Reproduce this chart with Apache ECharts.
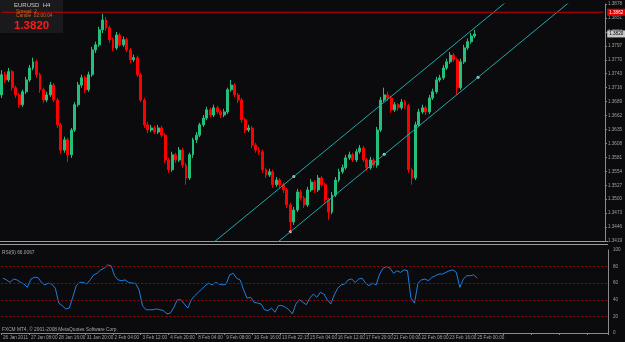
<!DOCTYPE html>
<html>
<head>
<meta charset="utf-8">
<title>EURUSD H4</title>
<script src="https://cdn.jsdelivr.net/npm/echarts@6/dist/echarts.min.js"></script>
<style>
  html, body { margin: 0; padding: 0; background: #0b0b0d; }
  #chart { width: 625px; height: 342px; }
</style>
</head>
<body>
<div id="chart"></div>
<script>
// candles, one per H4 bar (26 Jan 2011 -> 25 Feb 2011)
const openP = [
  1.3702,1.3741,1.3731,1.3747,1.3716,1.3702,1.3683,1.3708,1.3731,1.3754,
  1.3766,1.3741,1.3712,1.3692,1.3702,1.3721,1.3692,1.3644,1.3595,1.3615,
  1.3586,1.3634,1.3683,1.3721,1.3735,1.3712,1.3741,1.3789,1.3799,1.3828,
  1.3847,1.3832,1.3809,1.3793,1.3818,1.3799,1.3809,1.3789,1.3770,1.3774,
  1.3741,1.3692,1.3644,1.3634,1.3638,1.3630,1.3638,1.3624,1.3576,1.3557,
  1.3586,1.3576,1.3595,1.3566,1.3541,1.3586,1.3615,1.3624,1.3644,1.3657,
  1.3673,1.3663,1.3677,1.3669,1.3663,1.3669,1.3712,1.3721,1.3702,1.3692,
  1.3654,1.3634,1.3638,1.3605,1.3595,1.3592,1.3557,1.3547,1.3553,1.3528,
  1.3537,1.3528,1.3518,1.3489,1.3456,1.3479,1.3514,1.3502,1.3489,1.3518,
  1.3533,1.3518,1.3541,1.3528,1.3499,1.3475,1.3508,1.3537,1.3553,1.3561,
  1.3580,1.3586,1.3576,1.3592,1.3599,1.3576,1.3561,1.3576,1.3566,1.3634,
  1.3692,1.3702,1.3696,1.3673,1.3683,1.3677,1.3688,1.3681,1.3557,1.3541,
  1.3644,1.3669,1.3677,1.3669,1.3696,1.3708,1.3731,1.3735,1.3754,1.3766,
  1.3779,1.3770,1.3716,1.3766,1.3793,1.3805,1.3816
]
const closeP = [
  1.3741,1.3731,1.3747,1.3716,1.3702,1.3683,1.3708,1.3731,1.3754,1.3766,
  1.3741,1.3712,1.3692,1.3702,1.3721,1.3692,1.3644,1.3595,1.3615,1.3586,
  1.3634,1.3683,1.3721,1.3735,1.3712,1.3741,1.3789,1.3799,1.3828,1.3847,
  1.3832,1.3809,1.3793,1.3818,1.3799,1.3809,1.3789,1.3770,1.3774,1.3741,
  1.3692,1.3644,1.3634,1.3638,1.3630,1.3638,1.3624,1.3576,1.3557,1.3586,
  1.3576,1.3595,1.3566,1.3541,1.3586,1.3615,1.3624,1.3644,1.3657,1.3673,
  1.3663,1.3677,1.3669,1.3663,1.3669,1.3712,1.3721,1.3702,1.3692,1.3654,
  1.3634,1.3638,1.3605,1.3595,1.3592,1.3557,1.3547,1.3553,1.3528,1.3537,
  1.3528,1.3518,1.3489,1.3456,1.3479,1.3514,1.3502,1.3489,1.3518,1.3533,
  1.3518,1.3541,1.3528,1.3499,1.3475,1.3508,1.3537,1.3553,1.3561,1.3580,
  1.3586,1.3576,1.3592,1.3599,1.3576,1.3561,1.3576,1.3566,1.3634,1.3692,
  1.3702,1.3696,1.3673,1.3683,1.3677,1.3688,1.3681,1.3557,1.3541,1.3644,
  1.3669,1.3677,1.3669,1.3696,1.3708,1.3731,1.3735,1.3754,1.3766,1.3779,
  1.3770,1.3716,1.3766,1.3793,1.3805,1.3816,1.3820
]
const lowP = [
  1.3696,1.3725,1.3727,1.3710,1.3696,1.3677,1.3679,1.3704,1.3727,1.3750,
  1.3735,1.3706,1.3686,1.3688,1.3698,1.3688,1.3638,1.3588,1.3590,1.3572,
  1.3580,1.3630,1.3679,1.3716,1.3706,1.3708,1.3737,1.3783,1.3795,1.3822,
  1.3826,1.3803,1.3787,1.3789,1.3795,1.3795,1.3785,1.3764,1.3766,1.3737,
  1.3688,1.3638,1.3628,1.3630,1.3626,1.3626,1.3620,1.3570,1.3551,1.3553,
  1.3570,1.3572,1.3561,1.3528,1.3537,1.3580,1.3609,1.3620,1.3640,1.3653,
  1.3659,1.3659,1.3665,1.3657,1.3659,1.3665,1.3708,1.3698,1.3686,1.3648,
  1.3628,1.3630,1.3599,1.3590,1.3586,1.3551,1.3541,1.3543,1.3522,1.3524,
  1.3522,1.3512,1.3483,1.3437,1.3450,1.3475,1.3497,1.3483,1.3485,1.3514,
  1.3512,1.3514,1.3524,1.3493,1.3460,1.3471,1.3504,1.3533,1.3549,1.3557,
  1.3576,1.3572,1.3572,1.3588,1.3572,1.3555,1.3557,1.3561,1.3561,1.3630,
  1.3688,1.3690,1.3667,1.3669,1.3671,1.3673,1.3675,1.3551,1.3528,1.3537,
  1.3640,1.3665,1.3663,1.3665,1.3692,1.3704,1.3727,1.3731,1.3750,1.3762,
  1.3766,1.3702,1.3712,1.3762,1.3789,1.3801,1.3812
]
const highP = [
  1.3750,1.3747,1.3754,1.3750,1.3720,1.3706,1.3712,1.3737,1.3760,1.3774,
  1.3770,1.3745,1.3716,1.3708,1.3727,1.3725,1.3696,1.3648,1.3621,1.3619,
  1.3638,1.3688,1.3727,1.3741,1.3739,1.3747,1.3795,1.3805,1.3834,1.3859,
  1.3853,1.3836,1.3813,1.3824,1.3822,1.3815,1.3813,1.3793,1.3780,1.3778,
  1.3745,1.3696,1.3650,1.3644,1.3642,1.3644,1.3642,1.3628,1.3580,1.3592,
  1.3590,1.3601,1.3599,1.3570,1.3590,1.3619,1.3630,1.3648,1.3663,1.3679,
  1.3677,1.3683,1.3681,1.3673,1.3675,1.3716,1.3731,1.3725,1.3706,1.3696,
  1.3658,1.3644,1.3642,1.3609,1.3601,1.3596,1.3561,1.3559,1.3557,1.3543,
  1.3541,1.3532,1.3522,1.3493,1.3485,1.3520,1.3518,1.3506,1.3524,1.3539,
  1.3537,1.3547,1.3545,1.3532,1.3503,1.3514,1.3543,1.3559,1.3567,1.3586,
  1.3592,1.3590,1.3597,1.3605,1.3603,1.3580,1.3582,1.3580,1.3640,1.3698,
  1.3716,1.3708,1.3700,1.3688,1.3686,1.3694,1.3692,1.3685,1.3561,1.3650,
  1.3675,1.3683,1.3681,1.3702,1.3714,1.3737,1.3741,1.3760,1.3772,1.3785,
  1.3783,1.3774,1.3772,1.3799,1.3811,1.3822,1.3828
]

// RSI(9) under the price panel
const rsi = [
  66,64,61,65,64,61,59,55,65,67,
  67,61,58,60,59,54,36,33,29,30,
  43,57,61,61,59,64,70,72,76,78,
  82,81,69,64,63,64,61,60,60,52,
  33,28,28,28,29,28,27,23,24,31,
  40,40,35,30,40,45,49,53,57,60,
  58,61,59,58,59,70,72,66,64,52,
  42,43,37,36,35,28,27,30,25,33,
  33,31,28,23,35,40,37,34,42,47,
  43,49,47,40,35,46,54,58,59,64,
  65,61,65,66,60,57,60,58,71,78,
  80,78,72,75,73,76,75,42,36,60,
  64,65,63,67,69,71,71,73,75,76,
  73,55,65,69,69,70,66.0067
]
const rsiLevels = [20, 40, 60, 80]

// time labels, one every 8 bars
const timeLabels = [
  '26 Jan 2011', '27 Jan 08:00', '28 Jan 16:00', '31 Jan 20:00', '2 Feb 04:00',
  '3 Feb 12:00', '4 Feb 20:00', '8 Feb 04:00', '9 Feb 08:00', '10 Feb 16:00',
  '13 Feb 22:15', '15 Feb 04:00', '16 Feb 12:00', '17 Feb 20:00', '21 Feb 00:00',
  '22 Feb 08:00', '23 Feb 16:00', '25 Feb 00:00'
]

// equidistant channel (bar index, price)
const channelLower = [[78, 1.3409], [170, 1.3919]]
const channelUpper = [[60, 1.3411], [170, 1.4020]]
const channelPoints = [[83, 1.3437], [84, 1.3544], [110, 1.3587], [137, 1.3736]]

const alertLevel = 1.3862
const bidPrice = 1.3820

// the window shows empty bars to the right of the last candle
const totalBars = 174
const categories = Array.from({length: totalBars}, (_, i) => String(i))

const candleData = openP.map((o, i) => [o, closeP[i], lowP[i], highP[i]])

const font = 'Liberation Sans'
const axisGrey = '#8a8a8a'

// horizontal level across the window with a price tag on the axis
const levelSeries = (name, value, lineColor, tagBg, tagFg) => ({
  name,
  type: 'line',
  xAxisIndex: 0,
  yAxisIndex: 0,
  data: [[0, value], [totalBars - 1, value]],
  symbol: 'none',
  silent: true,
  z: 4,
  lineStyle: {color: lineColor, width: lineColor ? 1 : 0, opacity: lineColor ? 1 : 0},
  endLabel: {
    show: true,
    distance: 4,
    fontSize: 4.6,
    fontFamily: font,
    color: tagFg,
    backgroundColor: tagBg,
    padding: [1, 2],
    formatter: () => value.toFixed(4),
  },
})

const chart = echarts.init(document.getElementById('chart'))

const option = {
  backgroundColor: '#0b0b0d',
  animation: false,
  textStyle: {fontFamily: font},
  grid: [
    {left: 0, right: 17, top: 4, height: 237},
    {left: 0, right: 17, top: 250, height: 83},
  ],
  xAxis: [
    {
      type: 'category',
      gridIndex: 0,
      data: categories,
      axisLine: {show: false},
      axisTick: {show: false},
      axisLabel: {show: false},
      splitLine: {show: false},
    },
    {
      type: 'category',
      gridIndex: 1,
      data: categories,
      axisLine: {show: true, lineStyle: {color: axisGrey}},
      axisTick: {show: true, interval: 7, length: 2, lineStyle: {color: axisGrey}},
      axisLabel: {
        interval: 7,
        fontSize: 4.6,
        color: '#a0a0a0',
        align: 'left',
        margin: 2,
        formatter: (v, i) => (i % 8 === 0 && timeLabels[i / 8]) || '',
      },
      splitLine: {show: false},
    },
  ],
  yAxis: [
    {
      type: 'value',
      gridIndex: 0,
      position: 'right',
      min: 1.3419,
      max: 1.3878,
      interval: 0.0027,
      axisLine: {show: true, lineStyle: {color: axisGrey}},
      axisTick: {show: true, length: 2, lineStyle: {color: axisGrey}},
      axisLabel: {fontSize: 4.6, color: '#a0a0a0', margin: 3, formatter: (v) => v.toFixed(4)},
      splitLine: {show: false},
    },
    {
      type: 'value',
      gridIndex: 1,
      position: 'right',
      min: 0,
      max: 100,
      interval: 20,
      axisLine: {show: true, lineStyle: {color: axisGrey}},
      axisTick: {show: false},
      axisLabel: {fontSize: 4.6, color: '#a0a0a0', margin: 5},
      splitLine: {show: false},
    },
  ],
  series: [
    {
      name: 'EURUSD',
      type: 'candlestick',
      xAxisIndex: 0,
      yAxisIndex: 0,
      data: candleData,
      barWidth: 2.4,
      itemStyle: {
        color: '#22c07c',
        color0: '#ff0000',
        borderColor: '#22c07c',
        borderColor0: '#ff0000',
        borderWidth: 1,
      },
    },
    levelSeries('alert', alertLevel, '#c80000', '#e00000', '#ffffff'),
    levelSeries('bid', bidPrice, null, '#c8c8c8', '#000000'),
    {
      name: 'channel lower',
      type: 'line',
      xAxisIndex: 0,
      yAxisIndex: 0,
      data: channelLower,
      symbol: 'none',
      clip: true,
      lineStyle: {color: '#22a8a8', width: 1},
    },
    {
      name: 'channel upper',
      type: 'line',
      xAxisIndex: 0,
      yAxisIndex: 0,
      data: channelUpper,
      symbol: 'none',
      clip: true,
      lineStyle: {color: '#22a8a8', width: 1},
    },
    {
      name: 'channel points',
      type: 'scatter',
      xAxisIndex: 0,
      yAxisIndex: 0,
      data: channelPoints,
      symbolSize: 3,
      itemStyle: {color: '#ffffff'},
    },
    {
      name: 'RSI(9)',
      type: 'line',
      xAxisIndex: 1,
      yAxisIndex: 1,
      data: rsi,
      symbol: 'none',
      lineStyle: {color: '#1e7fe0', width: 1},
      markLine: {
        symbol: 'none',
        silent: true,
        label: {show: false},
        lineStyle: {color: '#8b0f0f', type: [2, 2], width: 1},
        data: rsiLevels.map((v) => ({yAxis: v})),
      },
    },
  ],
  graphic: [
    // separator between price and indicator window
    {type: 'line', shape: {x1: 0, y1: 241.5, x2: 608, y2: 241.5}, style: {stroke: '#9a9a9a', lineWidth: 1}},
    {type: 'line', shape: {x1: 0, y1: 244.5, x2: 608, y2: 244.5}, style: {stroke: '#9a9a9a', lineWidth: 1}},
    // info box top left
    {type: 'rect', shape: {x: 0, y: 0, width: 63, height: 33}, style: {fill: '#1a1a1c'}, z: 0},
    {type: 'text', left: 14, top: 2, style: {text: 'EURUSD  H4', fill: '#c8c8c8', fontSize: 6, fontFamily: font}, z: 5},
    {type: 'text', left: 16, top: 9, style: {text: 'Spread  2', fill: '#c86a28', fontSize: 4.8, fontFamily: font}, z: 5},
    {type: 'text', left: 16, top: 13.5, style: {text: 'Candle  02:00:04', fill: '#c86a28', fontSize: 4.8, fontFamily: font}, z: 5},
    {type: 'text', left: 14, top: 20, style: {text: '1.3820', fill: '#ff1a1a', fontSize: 11.5, fontWeight: 'bold', fontFamily: font}, z: 5},
    // indicator captions
    {type: 'text', left: 2, top: 250, style: {text: 'RSI(9) 66.0067', fill: '#a8a8a8', fontSize: 4.8, fontFamily: font}, z: 5},
    {type: 'text', left: 2, top: 327, style: {text: 'FXCM MT4, © 2001-2008 MetaQuotes Software Corp.', fill: '#a8a8a8', fontSize: 4.8, fontFamily: font}, z: 5},
  ],
}

chart.setOption(option)
</script>
</body>
</html>
